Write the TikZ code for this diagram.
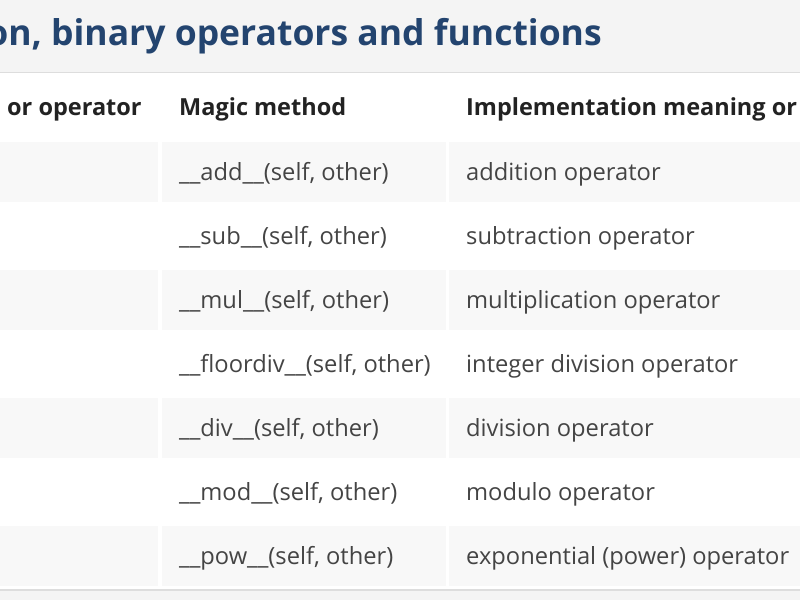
\documentclass[tikz,border=0pt]{standalone}
\usepackage{fontspec}
\setmainfont{Open Sans}
\definecolor{band}{HTML}{F4F4F4}
\definecolor{rule}{HTML}{DDDDDD}
\definecolor{stripe}{HTML}{F8F8F8}
\definecolor{titleblue}{HTML}{23446F}
\definecolor{bodytext}{HTML}{444444}
\definecolor{headtext}{HTML}{222222}
\tikzset{
  titletext/.style={anchor=base east, inner sep=0pt, text=titleblue, font=\fontsize{35.5}{40}\selectfont\bfseries},
  headcell/.style={anchor=base west, inner sep=0pt, text=headtext, font=\fontsize{23.5}{27}\selectfont\bfseries},
  bodycell/.style={anchor=base west, inner sep=0pt, text=bodytext, font=\fontsize{23.7}{27}\selectfont},
  stripecell/.style={fill=stripe, draw=none}
}
\begin{document}
\begin{tikzpicture}[x=1pt,y=-1pt]
\useasboundingbox (0,0) rectangle (800,600);
\clip (0,0) rectangle (800,600);
% background bands
\fill[band] (0,0) rectangle (800,73);
\fill[white] (0,73) rectangle (800,590);
\fill[band] (0,590) rectangle (800,600);
\draw[rule, line width=1.5pt] (0,72.5) -- (800,72.5);
\draw[rule, line width=1.5pt] (0,590) -- (800,590);
% title
\node[titletext] (title) at (602,45) {on, binary operators and functions};
% header
\node[headcell] (h1) at (7,115) {or operator};
\node[headcell] (h2) at (179,115) {Magic method};
\node[headcell] (h3) at (466,115) {Implementation meaning or};
% stripes
\foreach \i in {0,2,4,6} {
  \fill[stripecell] (0,142+64*\i) rectangle (158,202+64*\i);
  \fill[stripecell] (162,142+64*\i) rectangle (446,202+64*\i);
  \fill[stripecell] (449,142+64*\i) rectangle (800,202+64*\i);
}
% rows
\node[bodycell] (m1) at (179,180) {\_\_add\_\_(self, other)};
\node[bodycell] (d1) at (466,180) {addition operator};
\node[bodycell] (m2) at (179,244) {\_\_sub\_\_(self, other)};
\node[bodycell] (d2) at (466,244) {subtraction operator};
\node[bodycell] (m3) at (179,308) {\_\_mul\_\_(self, other)};
\node[bodycell] (d3) at (466,308) {multiplication operator};
\node[bodycell] (m4) at (179,372) {\_\_floordiv\_\_(self, other)};
\node[bodycell] (d4) at (466,372) {integer division operator};
\node[bodycell] (m5) at (179,436) {\_\_div\_\_(self, other)};
\node[bodycell] (d5) at (466,436) {division operator};
\node[bodycell] (m6) at (179,500) {\_\_mod\_\_(self, other)};
\node[bodycell] (d6) at (466,500) {modulo operator};
\node[bodycell] (m7) at (179,564) {\_\_pow\_\_(self, other)};
\node[bodycell] (d7) at (466,564) {exponential (power) operator};
\end{tikzpicture}
\end{document}
